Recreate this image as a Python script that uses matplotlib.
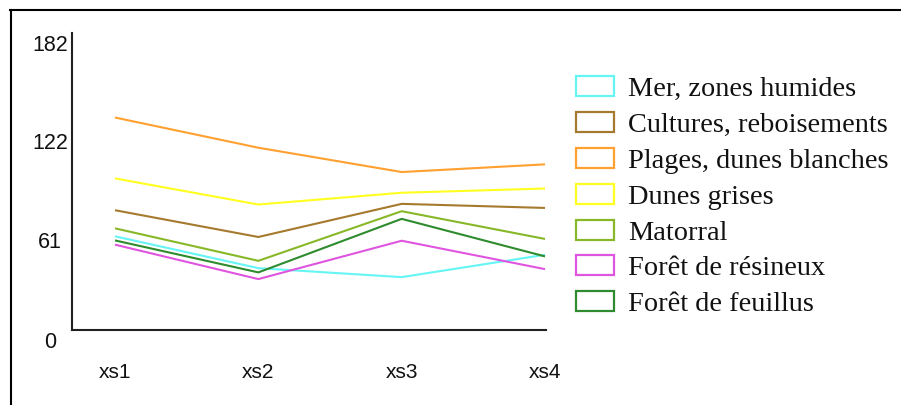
import matplotlib
matplotlib.use("Agg")
import matplotlib.pyplot as plt
from matplotlib.patches import Rectangle
from matplotlib.lines import Line2D
from matplotlib.transforms import ScaledTranslation

categories = ["xs1", "xs2", "xs3", "xs4"]
series_names = ["Mer, zones humides", "Cultures, reboisements", "Plages, dunes blanches",
                "Dunes grises", "Matorral", "Forêt de résineux", "Forêt de feuillus"]
mer = [57.4, 37.9, 32.4, 46.1]
cultures = [73.4, 57.0, 77.3, 74.8]
plages = [130.2, 111.7, 96.8, 101.5]
dunes_grises = [92.9, 76.9, 84.1, 86.7]
matorral = [62.3, 42.4, 72.8, 55.8]
resineux = [52.3, 31.2, 54.7, 37.3]
feuillus = [54.9, 35.3, 68.1, 45.1]
ytick_values = [0, 61, 122, 182]
ytick_labels = ["0", "61", "122", "182"]

colors = ["#66F5F5", "#A67A2E", "#FFA030", "#FFFF20", "#88B828", "#E055E0", "#2E8B2E"]
all_series = [mer, cultures, plages, dunes_grises, matorral, resineux, feuillus]

W, H = 901, 405
fig = plt.figure(figsize=(W / 100, H / 100), dpi=100)

# axes: left spine x=72, bottom spine y=330, top y=33, right x=546
ax = fig.add_axes([72 / W, (H - 330) / H, (546 - 72) / W, (330 - 33) / H])
xs = list(range(len(categories)))
for vals, col, name in zip(all_series, colors, series_names):
    ax.plot(xs, vals, color=col, lw=1.5, label=name, solid_capstyle="butt")

ax.set_xlim(-43 / 143.3, 3 + 1 / 143.3)
ax.set_ylim(0, 182)
for s in ["top", "right"]:
    ax.spines[s].set_visible(False)
for s in ["left", "bottom"]:
    ax.spines[s].set_color("#202020")
    ax.spines[s].set_linewidth(1.5)

ax.set_yticks(ytick_values)
ax.set_yticklabels(ytick_labels, fontfamily="Liberation Sans", fontsize=15.5, color="#111111")
ax.tick_params(axis="y", length=0, pad=0)
for lab in ax.get_yticklabels():
    lab.set_horizontalalignment("center")
    lab.set_verticalalignment("center")
    lab.set_transform(lab.get_transform() + ScaledTranslation(-0.22, -0.125, fig.dpi_scale_trans))

ax.set_xticks(xs)
ax.set_xticklabels(categories, fontfamily="Liberation Sans", fontsize=15, color="#111111")
ax.tick_params(axis="x", length=0, pad=0)
for lab in ax.get_xticklabels():
    lab.set_verticalalignment("center")
    lab.set_transform(lab.get_transform() + ScaledTranslation(0, -0.43, fig.dpi_scale_trans))

# legend (manual)
row0 = 86.3
step = 35.8
for i, (name, col) in enumerate(zip(series_names, colors)):
    yc = row0 + i * step
    rect = Rectangle((576 / W, (H - (yc + 10)) / H), 38 / W, 20 / H,
                     transform=fig.transFigure, facecolor="white", edgecolor=col, lw=1.6)
    fig.patches.append(rect)
    fig.text(628 / W, (H - (yc + 10)) / H, name, fontfamily="Liberation Serif",
             fontsize=20.4, color="#111111", va="baseline", ha="left")

# outer frame (top and left edges)
fig.add_artist(Line2D([10 / W, 1.0], [(H - 9.5) / H, (H - 9.5) / H],
                      transform=fig.transFigure, color="black", lw=1.5))
fig.add_artist(Line2D([10.5 / W, 10.5 / W], [0, (H - 9.5) / H],
                      transform=fig.transFigure, color="black", lw=1.5))

fig.savefig("out.png", dpi=100)
